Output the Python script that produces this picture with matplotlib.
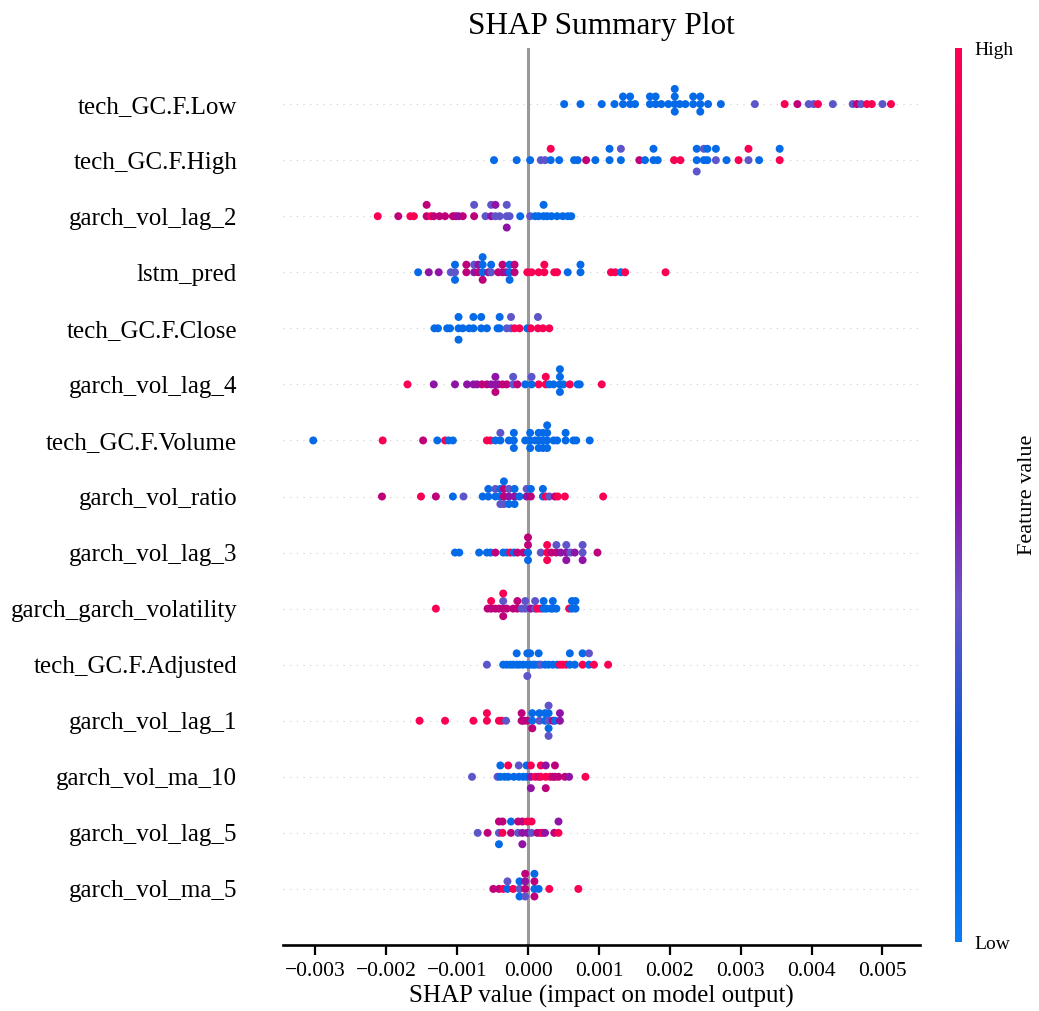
import matplotlib
matplotlib.use("Agg")
import matplotlib.pyplot as plt
import numpy as np
from matplotlib.colors import LinearSegmentedColormap
from matplotlib.cm import ScalarMappable
from matplotlib.ticker import FuncFormatter

plt.rcParams['font.family'] = ['Liberation Serif', 'DejaVu Serif']

features = ['tech_GC.F.Low', 'tech_GC.F.High', 'garch_vol_lag_2', 'lstm_pred',
            'tech_GC.F.Close', 'garch_vol_lag_4', 'tech_GC.F.Volume', 'garch_vol_ratio',
            'garch_vol_lag_3', 'garch_garch_volatility', 'tech_GC.F.Adjusted',
            'garch_vol_lag_1', 'garch_vol_ma_10', 'garch_vol_lag_5', 'garch_vol_ma_5']

# each point: (SHAP value in units of 1e-3, feature value scaled 0 = low .. 1 = high)
tech_low = [(0.51, .1), (0.74, .1), (1.04, .1), (1.22, .1), (1.34, .1), (1.34, .1), (1.44, .1),
            (1.44, .1), (1.51, .1), (1.72, .1), (1.72, .1), (1.80, .1), (1.80, .1), (1.88, .1),
            (1.98, .1), (2.07, .1), (2.07, .1), (2.07, .1), (2.07, .1), (2.14, .1), (2.22, .1),
            (2.33, .1), (2.33, .1), (2.43, .1), (2.43, .1), (2.43, .1), (2.54, .1), (2.72, .1),
            (3.20, .36), (3.62, .97), (3.80, .7), (3.96, .36), (4.03, .36), (4.09, .97),
            (4.30, .36), (4.58, .36), (4.64, .7), (4.70, .36), (4.78, .97), (4.85, .97),
            (5.00, .36), (5.12, .97)]
tech_high = [(-0.48, .1), (-0.16, .1), (0.03, .1), (0.18, .36), (0.24, .36), (0.32, .1), (0.32, .97),
             (0.44, .1), (0.65, .1), (0.70, .1), (0.82, .7), (0.95, .1), (1.15, .1), (1.15, .1),
             (1.31, .1), (1.31, .36), (1.57, .7), (1.65, .1), (1.77, .1), (1.77, .1), (1.83, .1),
             (2.06, .97), (2.15, .97), (2.38, .1), (2.38, .1), (2.38, .36), (2.48, .1), (2.48, .36),
             (2.53, .1), (2.53, .1), (2.65, .36), (2.65, .1), (2.80, .1), (2.97, .97),
             (3.11, .36), (3.11, .97), (3.26, .1), (3.55, .97), (3.55, .1)]
vol_lag_2 = [(-2.12, .97), (-1.83, .7), (-1.66, .97), (-1.61, .97), (-1.43, .7), (-1.43, .7),
             (-1.37, .97), (-1.33, .7), (-1.25, .7), (-1.17, .7), (-1.06, .7), (-1.02, .7),
             (-0.98, .5), (-0.92, .7), (-0.76, .7), (-0.76, .36), (-0.60, .36), (-0.52, .5),
             (-0.52, .36), (-0.46, .36), (-0.46, .5), (-0.40, .36), (-0.30, .36), (-0.30, .36),
             (-0.30, .5), (-0.26, .36), (-0.11, .1), (0.03, .36), (0.10, .1), (0.15, .1),
             (0.22, .1), (0.22, .1), (0.27, .1), (0.33, .1), (0.41, .1), (0.49, .1), (0.56, .1),
             (0.61, .1)]
lstm_pred = [(-1.55, .1), (-1.40, .5), (-1.26, .5), (-1.09, .36), (-1.03, .36), (-1.03, .1),
             (-1.03, .1), (-0.87, .7), (-0.87, .7), (-0.76, .5), (-0.76, .36), (-0.70, .7),
             (-0.70, .5), (-0.64, .1), (-0.64, .1), (-0.64, .7), (-0.64, .1), (-0.56, .5),
             (-0.52, .36), (-0.52, .1), (-0.42, .7), (-0.36, .7), (-0.36, .7), (-0.31, .5),
             (-0.26, .1), (-0.26, .1), (-0.26, .1), (-0.19, .7), (-0.19, .7), (-0.01, .97),
             (0.05, .97), (0.15, .97), (0.23, .97), (0.23, .97), (0.37, .97), (0.41, .97),
             (0.56, .1), (0.74, .1), (0.74, .1), (1.17, .97), (1.23, .97), (1.31, .1),
             (1.37, .97), (1.94, .97)]
tech_close = [(-1.32, .1), (-1.27, .1), (-1.14, .1), (-1.10, .1), (-0.98, .1), (-0.98, .1),
              (-0.98, .1), (-0.92, .1), (-0.83, .1), (-0.77, .1), (-0.77, .1), (-0.66, .1),
              (-0.66, .1), (-0.58, .1), (-0.43, .1), (-0.40, .1), (-0.40, .1), (-0.30, .36),
              (-0.24, .36), (-0.24, .36), (-0.19, .97), (-0.12, .97), (-0.01, .1), (0.04, .97),
              (0.14, .97), (0.14, .36), (0.21, .97), (0.30, .97)]
vol_lag_4 = [(-1.70, .97), (-1.33, .5), (-1.03, .5), (-0.86, .5), (-0.77, .5), (-0.72, .5),
             (-0.65, .7), (-0.58, .7), (-0.52, .5), (-0.46, .5), (-0.46, .5), (-0.46, .7),
             (-0.42, .5), (-0.36, .7), (-0.30, .7), (-0.21, .36), (-0.21, .36), (-0.15, .7),
             (-0.04, .1), (0.05, .1), (0.05, .36), (0.15, .97), (0.25, .97), (0.25, .97),
             (0.30, .1), (0.36, .1), (0.45, .1), (0.45, .1), (0.45, .1), (0.45, .1), (0.50, .1),
             (0.59, .97), (0.70, .1), (0.73, .1), (1.04, .97)]
tech_volume = [(-3.03, .1), (-2.05, .97), (-1.48, .7), (-1.28, .1), (-1.17, .97), (-1.12, .1),
               (-1.06, .1), (-0.58, .97), (-0.53, .97), (-0.46, .1), (-0.39, .1), (-0.39, .36),
               (-0.27, .1), (-0.20, .1), (-0.20, .1), (-0.20, .1), (-0.04, .1), (0.03, .1),
               (0.03, .1), (0.03, .1), (0.10, .1), (0.15, .1), (0.15, .1), (0.15, .1), (0.21, .1),
               (0.21, .1), (0.21, .1), (0.27, .1), (0.27, .1), (0.27, .1), (0.27, .1), (0.36, .1),
               (0.41, .1), (0.53, .1), (0.53, .1), (0.64, .1), (0.68, .1), (0.87, .1)]
vol_ratio = [(-2.06, .7), (-1.51, .97), (-1.30, .7), (-1.06, .1), (-0.91, .36), (-0.64, .1),
             (-0.56, .1), (-0.56, .1), (-0.46, .1), (-0.46, .36), (-0.39, .1), (-0.39, .1),
             (-0.39, .36), (-0.34, .7), (-0.34, .7), (-0.34, .36), (-0.34, .1), (-0.27, .5),
             (-0.27, .36), (-0.27, .1), (-0.19, .5), (-0.19, .1), (-0.19, .1), (-0.12, .1),
             (-0.02, .5), (-0.02, .36), (0.04, .7), (0.04, .1), (0.21, .1), (0.21, .1),
             (0.25, .97), (0.30, .36), (0.38, .7), (0.42, .97), (0.52, .97), (1.06, .97)]
vol_lag_3 = [(-1.03, .1), (-0.97, .1), (-0.69, .1), (-0.58, .1), (-0.53, .1), (-0.46, .7),
             (-0.35, .1), (-0.30, .1), (-0.25, .97), (-0.20, .1), (-0.15, .7), (-0.07, .7),
             (0.00, .1), (0.00, .7), (0.00, .1), (0.00, .7), (0.18, .36), (0.27, .97),
             (0.27, .97), (0.27, .97), (0.33, .7), (0.40, .7), (0.40, .36), (0.46, .5),
             (0.54, .5), (0.54, .36), (0.54, .5), (0.60, .36), (0.66, .5), (0.77, .36),
             (0.77, .36), (0.77, .5), (0.98, .7)]
garch_vol = [(-1.30, .97), (-0.57, .7), (-0.52, .7), (-0.52, .97), (-0.46, .7), (-0.41, .7),
             (-0.35, .7), (-0.35, .36), (-0.35, .7), (-0.35, .97), (-0.30, .7), (-0.21, .7),
             (-0.15, .7), (-0.15, .7), (-0.09, .36), (-0.04, .36), (-0.04, .36), (0.04, .5),
             (0.10, .36), (0.10, .36), (0.13, .97), (0.18, .97), (0.22, .1), (0.22, .1),
             (0.26, .1), (0.32, .1), (0.35, .1), (0.35, .1), (0.40, .1), (0.58, .97),
             (0.62, .1), (0.62, .1), (0.67, .1), (0.67, .1)]
tech_adjusted = [(-0.58, .36), (-0.35, .1), (-0.30, .1), (-0.25, .1), (-0.21, .1), (-0.16, .1),
                 (-0.16, .1), (-0.12, .1), (-0.07, .1), (-0.01, .1), (-0.01, .1), (-0.01, .36),
                 (0.03, .1), (0.03, .1), (0.07, .1), (0.10, .1), (0.15, .1), (0.15, .1),
                 (0.18, .36), (0.24, .1), (0.29, .1), (0.35, .1), (0.41, .1), (0.45, .97),
                 (0.49, .97), (0.54, .97), (0.59, .1), (0.59, .1), (0.66, .1), (0.77, .97),
                 (0.77, .1), (0.86, .1), (0.86, .36), (0.93, .97), (1.13, .97)]
vol_lag_1 = [(-1.53, .97), (-1.17, .97), (-0.77, .97), (-0.58, .97), (-0.58, .97), (-0.41, .97),
             (-0.37, .97), (-0.31, .36), (-0.09, .7), (-0.09, .7), (-0.06, .7), (-0.01, .7),
             (0.06, .1), (0.06, .1), (0.06, .7), (0.16, .36), (0.16, .1), (0.24, .1), (0.24, .1),
             (0.29, .36), (0.29, .1), (0.29, .1), (0.29, .36), (0.29, .36), (0.35, .7),
             (0.38, .1), (0.45, .5), (0.45, .5)]
vol_ma_10 = [(-0.79, .36), (-0.43, .36), (-0.39, .1), (-0.39, .1), (-0.33, .1), (-0.28, .1),
             (-0.28, .97), (-0.20, .1), (-0.13, .1), (-0.13, .36), (-0.07, .1), (-0.02, .1),
             (-0.02, .1), (0.04, .5), (0.04, .97), (0.04, .5), (0.10, .97), (0.15, .7),
             (0.18, .97), (0.18, .97), (0.25, .97), (0.25, .5), (0.25, .7), (0.31, .97),
             (0.35, .7), (0.38, .7), (0.38, .7), (0.43, .7), (0.52, .7), (0.58, .5), (0.81, .97)]
vol_lag_5 = [(-0.71, .36), (-0.57, .7), (-0.41, .36), (-0.41, .7), (-0.41, .1), (-0.36, .97),
             (-0.36, .7), (-0.24, .7), (-0.24, .1), (-0.14, .36), (-0.14, .7), (-0.08, .5),
             (-0.08, .7), (-0.08, .5), (-0.01, .5), (-0.01, .97), (0.05, .36), (0.05, .97),
             (0.13, .7), (0.18, .7), (0.21, .97), (0.24, .5), (0.37, .7), (0.43, .97), (0.43, .5)]
vol_ma_5 = [(-0.49, .7), (-0.41, .7), (-0.35, .97), (-0.29, .1), (-0.29, .36), (-0.21, .97),
            (-0.12, .36), (-0.12, .1), (-0.12, .1), (-0.04, .7), (-0.04, .5), (-0.04, .36),
            (-0.04, .7), (0.09, .1), (0.09, .7), (0.09, .7), (0.09, .1), (0.15, .1), (0.30, .97),
            (0.71, .97)]

rows = [tech_low, tech_high, vol_lag_2, lstm_pred, tech_close, vol_lag_4, tech_volume,
        vol_ratio, vol_lag_3, garch_vol, tech_adjusted, vol_lag_1, vol_ma_10, vol_lag_5, vol_ma_5]

# shap-like red/blue colormap
red_blue = LinearSegmentedColormap.from_list('red_blue', [
    (0.0, '#0a7cf5'), (0.2, '#0058d8'), (0.38, '#6a55c8'), (0.5, '#8f14a6'),
    (0.58, '#9a0096'), (0.75, '#cc0070'), (1.0, '#ff0052')])


def swarm(vals, row_height=0.45, nbins=100):
    # same stacking idea as shap's beeswarm
    vals = np.asarray(vals)
    quant = np.round(nbins * (vals - vals.min()) / (vals.max() - vals.min() + 1e-8))
    order = np.argsort(quant, kind='stable')
    ys = np.zeros(len(vals))
    layer, last = 0, None
    for i in order:
        if quant[i] != last:
            layer = 0
        ys[i] = np.ceil(layer / 2) * ((layer % 2) * 2 - 1)
        layer += 1
        last = quant[i]
    return ys * 0.9 * (row_height / np.max(ys + 1))


fig = plt.figure(figsize=(10.39, 10.11), dpi=100)
ax = fig.add_axes([0.2724, 0.0653, 0.6131, 0.8872])

n = len(features)
ax.axvline(0, color='#999999', lw=2.2, zorder=-1)
for i, pts in enumerate(rows):
    pos = n - 1 - i
    x = np.array([p[0] for p in pts]) * 1e-3
    c = np.array([p[1] for p in pts])
    ax.axhline(pos, color='#cccccc', lw=0.8, dashes=(1, 5), zorder=-1)
    ax.scatter(x, pos + swarm(x), c=c, cmap=red_blue, vmin=0, vmax=1,
               s=33, linewidths=0, zorder=3)

ax.set_xlim(-3.456e-3, 5.53e-3)
ax.set_ylim(-1, n)
ax.set_yticks(range(n))
ax.set_yticklabels(features[::-1], fontsize=18)
ax.tick_params(axis='y', length=0, pad=33)
ax.set_xticks(np.arange(-0.003, 0.0051, 0.001))
ax.xaxis.set_major_formatter(FuncFormatter(
    lambda v, p: ('%.3f' % v).replace('-', '\u2212') if abs(v) > 1e-9 else '0.000'))
ax.tick_params(axis='x', labelsize=15.5, length=7, width=1.6, pad=5)
for s in ['top', 'left', 'right']:
    ax.spines[s].set_visible(False)
ax.spines['bottom'].set_linewidth(1.9)
ax.set_xlabel('SHAP value (impact on model output)', fontsize=18, labelpad=3)
ax.set_title('SHAP Summary Plot', fontsize=22.5, pad=10)

cax = fig.add_axes([0.919, 0.068, 0.0068, 0.8845])
sm = ScalarMappable(cmap=red_blue)
sm.set_clim(0, 1)
cb = fig.colorbar(sm, cax=cax, ticks=[0, 1])
cb.set_ticklabels(['Low', 'High'])
cb.ax.tick_params(labelsize=14, length=0, pad=9)
cb.outline.set_visible(False)
cb.set_label('Feature value', fontsize=16, labelpad=3)

fig.savefig('out.png', dpi=100)
